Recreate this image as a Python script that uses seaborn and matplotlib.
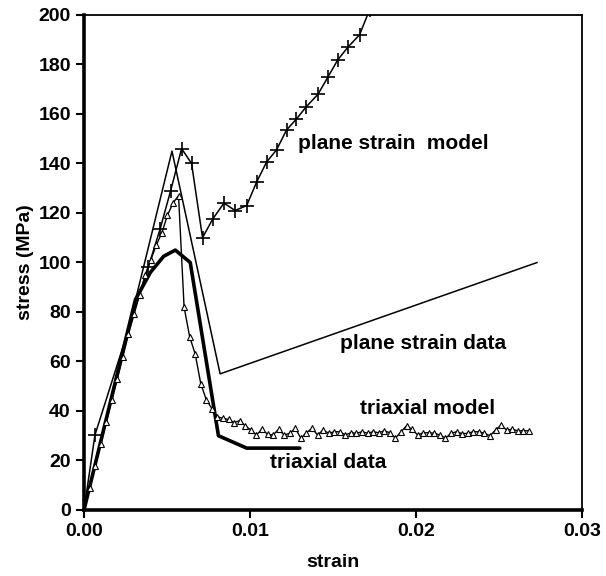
import numpy as np
import pandas as pd
import matplotlib
matplotlib.use("Agg")
import matplotlib.pyplot as plt
import seaborn as sns

# data (strain, stress in MPa)
ps_data_strain = [0.0, 0.0053, 0.0082, 0.0273]
ps_data_stress = [0.0, 145.0, 55.0, 100.0]

tri_data_strain = [0.0, 0.0031, 0.0040, 0.0048, 0.0055, 0.0064, 0.0081, 0.0098, 0.0130]
tri_data_stress = [0.0, 85.0, 96.0, 102.5, 105.0, 100.0, 30.0, 25.0, 25.0]

ps_model_strain = [0.0, 0.00066, 0.00388, 0.00458,
                   0.00522, 0.00588, 0.00648, 0.00714, 0.00775, 0.00843, 0.0091, 0.0098,
                   0.0104, 0.0110, 0.0116, 0.0122, 0.0128, 0.0134, 0.0141, 0.0147,
                   0.0153, 0.0159, 0.0166, 0.0172, 0.0178]
ps_model_stress = [0.0, 30.3, 98.3, 113.4,
                   129.0, 146.0, 140.0, 110.0, 117.5, 124.0, 121.0, 123.0,
                   132.5, 140.6, 145.5, 153.5, 158.0, 163.0, 168.0, 175.0,
                   182.0, 187.0, 192.0, 202.0, 212.0]

tri_model_strain = [
    0.0, 0.000335, 0.00067, 0.001005, 0.00134, 0.001675, 0.00201, 0.002345,
    0.00268, 0.003015, 0.00335, 0.003685, 0.00402, 0.004355, 0.00469, 0.005025,
    0.00536, 0.005695, 0.00603, 0.006365, 0.0067, 0.007035, 0.00737, 0.007705,
    0.00804, 0.008375, 0.00871, 0.009045, 0.00938, 0.009715, 0.01005, 0.010385,
    0.01072, 0.011055, 0.01139, 0.011725, 0.01206, 0.012395, 0.01273, 0.013065,
    0.0134, 0.013735, 0.01407, 0.014405, 0.01474, 0.015075, 0.01541, 0.015745,
    0.01608, 0.016415, 0.01675, 0.017085, 0.01742, 0.017755, 0.01809, 0.018425,
    0.01876, 0.019095, 0.01943, 0.019765, 0.0201, 0.020435, 0.02077, 0.021105,
    0.02144, 0.021775, 0.02211, 0.022445, 0.02278, 0.023115, 0.02345, 0.023785,
    0.02412, 0.024455, 0.02479, 0.025125, 0.02546, 0.025795, 0.02613, 0.026465,
    0.0268]
tri_model_stress = [
    0.0, 8.9, 17.8, 26.6, 35.5, 44.4, 53.0, 62.0,
    71.0, 79.0, 87.0, 95.0, 101.0, 107.0, 112.0, 119.0,
    124.0, 127.0, 82.0, 70.0, 63.0, 51.0, 44.5, 41.0,
    37.7, 37.0, 36.6, 35.3, 36.1, 34.0, 32.3, 30.3,
    32.6, 30.6, 30.3, 32.6, 30.3, 31.0, 33.0, 29.0,
    31.2, 33.0, 30.3, 32.3, 31.0, 31.6, 31.6, 30.3,
    31.2, 31.0, 31.6, 31.0, 31.6, 31.2, 32.0, 31.2,
    29.0, 31.6, 34.0, 32.6, 30.3, 31.2, 31.2, 31.0,
    30.3, 29.0, 31.0, 31.6, 30.8, 31.0, 31.6, 31.6,
    31.0, 30.0, 32.3, 34.3, 32.3, 32.6, 32.0, 32.0,
    32.0]

sns.set_style("white")
plt.rcParams['font.family'] = ['Liberation Sans', 'DejaVu Sans']
plt.rcParams['font.weight'] = 'bold'
plt.rcParams['text.color'] = 'black'
plt.rcParams['axes.labelcolor'] = 'black'

fig = plt.figure(figsize=(6.06, 5.76), dpi=100)
ax = fig.add_axes([0.1386, 0.1146, 0.8218, 0.8594])

sns.lineplot(x=ps_data_strain, y=ps_data_stress, ax=ax, color="black",
             linewidth=1.1, sort=False)
sns.lineplot(x=tri_data_strain, y=tri_data_stress, ax=ax, color="black",
             linewidth=2.6, sort=False)
sns.lineplot(x=ps_model_strain, y=ps_model_stress, ax=ax, color="black",
             linewidth=1.1, sort=False, marker="+", markersize=10,
             markeredgewidth=1.2, markeredgecolor="black")
sns.lineplot(x=tri_model_strain, y=tri_model_stress, ax=ax, color="black",
             linewidth=1.0, sort=False, marker="^", markersize=4,
             markerfacecolor="white", markeredgecolor="black",
             markeredgewidth=0.8)

ax.set_xlim(0, 0.03)
ax.set_ylim(0, 200)
ax.set_xticks([0.0, 0.01, 0.02, 0.03])
ax.set_xticklabels(["0.00", "0.01", "0.02", "0.03"])
ax.set_yticks(np.arange(0, 201, 20))
ax.tick_params(axis="both", direction="out", length=6, width=1.5,
               labelsize=14, colors="black", bottom=True, left=True)
for lab in ax.get_xticklabels() + ax.get_yticklabels():
    lab.set_fontweight("bold")

ax.set_xlabel("strain", fontsize=14, fontweight="bold", labelpad=10)
ax.set_ylabel("stress (MPa)", fontsize=14, fontweight="bold", labelpad=3)

for side in ["left", "bottom"]:
    ax.spines[side].set_linewidth(2.6)
for side in ["top", "right"]:
    ax.spines[side].set_linewidth(1.3)
for s in ax.spines.values():
    s.set_color("black")
    s.set_visible(True)

lab_kw = dict(fontsize=15, fontweight="bold", ha="center", va="center",
              color="black")
ax.text(0.01861, 147.9, "plane strain  model", **lab_kw)
ax.text(0.02042, 67.1, "plane strain data", **lab_kw)
ax.text(0.02072, 41.2, "triaxial model", **lab_kw)
ax.text(0.0147, 19.0, "triaxial data", **lab_kw)

fig.savefig("out.png", dpi=100)
